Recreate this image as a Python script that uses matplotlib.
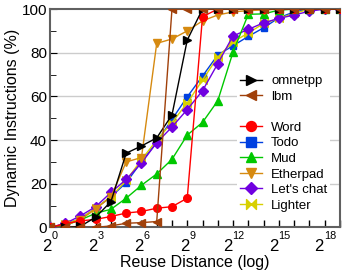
import numpy as np
import matplotlib
matplotlib.use('Agg')
import matplotlib.pyplot as plt
import matplotlib.transforms as mtransforms
from matplotlib.lines import Line2D
from matplotlib.path import Path

plt.rcParams['font.family'] = ['Liberation Sans', 'DejaVu Sans']

# reuse distance exponents (2^k)
x = list(range(20))

omnetpp = [0, 0, 0.5, 4.7, 11.8, 34, 37.3, 41, 51.5, 85.8, 100, 100, 100, 100, 100, 100, 100, 100, 100, 100]
lbm = [0, 0, 0, 0, 0.7, 1.9, 2.2, 2.7, 100, 100, 100, 100, 100, 100, 100, 100, 100, 100, 100, 100]
word = [0, 1.7, 3, 3.7, 5, 6.6, 7.3, 8.8, 9.5, 13.4, 96.5, 100, 100, 100, 100, 100, 100, 100, 100, 100]
todo = [0, 1.5, 4, 8.8, 14, 20.5, 30, 39, 49.5, 59.8, 69.3, 79, 83.2, 87.5, 91.4, 96, 98.7, 100, 100, 100]
mud = [0, 1, 3.4, 6.5, 8.3, 13.4, 19.3, 24.5, 31.2, 42.3, 48.1, 58, 80.3, 97.6, 97.8, 99.5, 100, 100, 100, 100]
etherpad = [0, 1, 3.5, 8.5, 14, 30, 32, 84.3, 86.3, 90, 94.6, 97.3, 98.7, 99.3, 99.6, 100, 100, 100, 100, 100]
letschat = [0, 1.8, 5.3, 9.5, 16, 22, 29.5, 38.8, 46, 54, 62.6, 75, 87.7, 90.7, 93.7, 95.7, 97.3, 99, 100, 100]
lighter = [0, 1.5, 4, 8.8, 14, 21.5, 31, 40, 48, 57, 67.5, 78, 85, 89, 93.4, 95.7, 98, 100, 100, 100]

xticks = [0, 3, 6, 9, 12, 15, 18]

# bowtie marker for Lighter
bowtie = Path([(-1, 1), (1, -1), (1, 1), (-1, -1), (-1, 1)],
              [Path.MOVETO, Path.LINETO, Path.LINETO, Path.LINETO, Path.CLOSEPOLY])

fig = plt.figure(figsize=(3.44, 2.75), dpi=100)
ax = fig.add_axes([0.145, 0.173, 0.843, 0.794])

ms = 5.5
h_todo, = ax.plot(x, todo, color='#0040E0', marker='s', ms=ms - 0.5, lw=1, zorder=3)
h_light, = ax.plot(x, lighter, color='#D8D000', marker=bowtie, ms=ms, lw=1, zorder=4)
h_chat, = ax.plot(x, letschat, color='#7000E0', marker='D', ms=ms - 0.5, lw=1, zorder=5)
h_mud, = ax.plot(x, mud, color='#00C800', marker='^', ms=ms, lw=1, zorder=6)
h_eth, = ax.plot(x, etherpad, color='#D68A10', marker='v', ms=ms, lw=1, zorder=7)
h_word, = ax.plot(x, word, color='#FF0000', marker='o', ms=ms, lw=1, zorder=8)
h_omn, = ax.plot(x, omnetpp, color='black', marker='>', ms=ms, lw=1, zorder=9)
h_lbm, = ax.plot(x, lbm, color='#A0400A', marker='<', ms=ms, lw=1, zorder=10)

blank = Line2D([], [], color='none')

ax.set_xlim(0, 19)
ax.set_ylim(0, 100)
ax.set_xticks(xticks)
ax.set_xticklabels([])
ax.set_xticks(x, minor=True)
ax.set_yticks([0, 20, 40, 60, 80, 100])
ax.set_yticks(range(10, 100, 20), minor=True)
ax.tick_params(axis='both', which='both', direction='in', labelsize=11, pad=2)
ax.tick_params(axis='x', which='both', length=5, width=1)
ax.tick_params(axis='y', which='major', length=5)
ax.tick_params(axis='y', which='minor', length=4)

# x tick labels: big "2" with a raised exponent, as in the original
base = mtransforms.blended_transform_factory(ax.transData, ax.transAxes)
for k in xticks:
    e = str(k)
    w2 = 10.0
    we = 5.8 * len(e)
    dx = (w2 - we) / 2 * 0.72
    tr2 = mtransforms.offset_copy(base, fig=fig, x=dx, y=-23.5 * 0.72, units='points')
    tre = mtransforms.offset_copy(base, fig=fig, x=dx, y=-12.0 * 0.72, units='points')
    ax.text(k, 0, '2', transform=tr2, ha='right', va='baseline', fontsize=12, clip_on=False)
    ax.text(k, 0, e, transform=tre, ha='left', va='baseline', fontsize=7.8, clip_on=False)

for y in [20, 40, 60, 80]:
    ax.axhline(y, color='#cccccc', lw=1, zorder=0)

for s in ax.spines.values():
    s.set_color('#606060')
    s.set_linewidth(1.5)

ax.set_xlabel('Reuse Distance (log)', fontsize=11.5)
ax.xaxis.set_label_coords(0.5, -0.128)
ax.set_ylabel('Dynamic Instructions (%)', fontsize=11.5, labelpad=1)

leg = ax.legend([h_omn, h_lbm, blank, h_word, h_todo, h_mud, h_eth, h_chat, h_light],
                ['omnetpp', 'lbm', '', 'Word', 'Todo', 'Mud', 'Etherpad', "Let's chat", 'Lighter'],
                loc='center left', bbox_to_anchor=(0.645, 0.385), fontsize=9.5,
                frameon=True, facecolor='white', edgecolor='none', framealpha=1,
                fancybox=False, borderpad=0.2, borderaxespad=0, labelspacing=0.25,
                handlelength=1.7, handletextpad=0.7, markerscale=1.3)
leg.set_zorder(20)

fig.savefig('out.png', dpi=100)
